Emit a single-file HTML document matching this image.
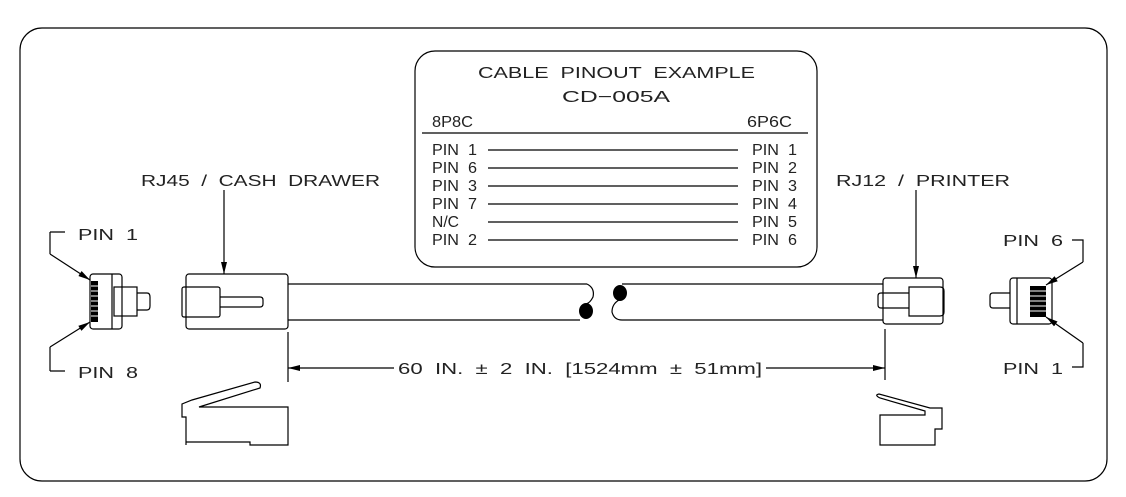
<!DOCTYPE html>
<html><head><meta charset="utf-8"><style>
html,body{margin:0;padding:0;background:#fff;}
svg{display:block;}
text{font-family:"Liberation Sans",sans-serif;fill:#222;font-size:16px;white-space:pre;}
</style></head><body>
<svg width="1126" height="497" viewBox="0 0 1126 497" xmlns="http://www.w3.org/2000/svg">
<defs><marker id="a" markerWidth="12" markerHeight="8" refX="12" refY="4" orient="auto" markerUnits="userSpaceOnUse"><path d="M0,1 L12,4 L0,7 Z" fill="#000"/></marker></defs>
<g fill="none" stroke="#000" stroke-width="1.2">
<rect x="20" y="28" width="1087" height="453" rx="22"/>
<rect x="415" y="51" width="402" height="216" rx="20"/>
<line x1="422" y1="133" x2="808" y2="133"/>
<line x1="488" y1="150" x2="738" y2="150"/>
<line x1="488" y1="168" x2="738" y2="168"/>
<line x1="488" y1="186" x2="738" y2="186"/>
<line x1="488" y1="204" x2="738" y2="204"/>
<line x1="488" y1="222" x2="738" y2="222"/>
<line x1="488" y1="240" x2="738" y2="240"/>

<rect x="90" y="274" width="32" height="55" rx="3"/>
<line x1="112" y1="274" x2="112" y2="329"/>
<rect x="114" y="287" width="23" height="29"/>
<path d="M137,293 H147 Q150,293 150,297 V306 Q150,310 147,310 H137"/>
<path d="M50,232 H65 M50,232 V254" /><path d="M50,254 L90,280" marker-end="url(#a)"/>
<path d="M50,371 H65 M50,371 V347"/><path d="M50,347 L90,322" marker-end="url(#a)"/>

<rect x="186" y="274" width="102" height="55" rx="3"/>
<rect x="182" y="287" width="38" height="30" rx="2"/>
<path d="M220,297 H260 Q263,297 263,300 V304 Q263,307 260,307 H220"/>
<line x1="224" y1="190" x2="224" y2="274" marker-end="url(#a)"/>
<line x1="288" y1="284" x2="587" y2="284"/>
<line x1="288" y1="320" x2="580" y2="320"/>
<path d="M587,284 Q595,288 593,297 Q590,303 586,304"/>
<path d="M619,300 Q612,304 612,312 Q614,320 622,320 H883"/>
<line x1="622" y1="284" x2="883" y2="284"/>

<rect x="883" y="278" width="60" height="46" rx="3"/>
<path d="M909,287 H940 Q944,287 944,291 V312 Q944,316 940,316 H909 Z"/>
<path d="M909,293 H881 Q878,293 878,296 V305 Q878,308 881,308 H909"/>
<line x1="916" y1="190" x2="916" y2="278" marker-end="url(#a)"/>

<rect x="1010" y="278" width="42" height="46" rx="3"/>
<line x1="1017" y1="278" x2="1017" y2="324"/>
<path d="M1010,293 H993 Q990,293 990,296 V305 Q990,308 993,308 H1010"/>
<path d="M1072,240 H1083 V262"/><path d="M1083,262 L1046,285" marker-end="url(#a)"/>
<path d="M1072,367 H1083 V343"/><path d="M1083,343 L1046,317" marker-end="url(#a)"/>

<line x1="288" y1="332" x2="288" y2="382"/>
<line x1="885" y1="329" x2="885" y2="380"/>
<line x1="394" y1="368" x2="288" y2="368" marker-end="url(#a)"/>
<line x1="766" y1="368" x2="885" y2="368" marker-end="url(#a)"/>

<path d="M186,445 V417 H182 V404 L192,400 L255,382 Q262,382 260,388 L199,407 H288 V445 H250 V442 H186"/>
<path d="M880,445 V415 H925 V411 L880,398 Q874,395 879,394 L930,408 H942 V429 H935 V445 Z"/>
</g>
<rect x="91" y="281" width="7" height="41" fill="#000"/>
<rect x="1030" y="286" width="16" height="31" fill="#000"/>
<g stroke="#fff" stroke-width="1"><line x1="1030" y1="291" x2="1046" y2="291"/><line x1="1030" y1="296" x2="1046" y2="296"/><line x1="1030" y1="301" x2="1046" y2="301"/><line x1="1030" y1="306" x2="1046" y2="306"/><line x1="1030" y1="311" x2="1046" y2="311"/>
<line x1="91" y1="286" x2="98" y2="286"/><line x1="91" y1="291" x2="98" y2="291"/><line x1="91" y1="296" x2="98" y2="296"/><line x1="91" y1="301" x2="98" y2="301"/><line x1="91" y1="306" x2="98" y2="306"/><line x1="91" y1="311" x2="98" y2="311"/><line x1="91" y1="316" x2="98" y2="316"/></g>
<ellipse cx="586" cy="311" rx="7" ry="8" fill="#000"/>
<ellipse cx="620" cy="293" rx="7" ry="8" fill="#000"/>

<text x="478" y="78" font-size="21" textLength="277" lengthAdjust="spacingAndGlyphs">CABLE  PINOUT  EXAMPLE</text>
<text x="562" y="102" font-size="21" textLength="108" lengthAdjust="spacingAndGlyphs">CD−005A</text>
<text x="432" y="127" font-size="12" textLength="41" lengthAdjust="spacingAndGlyphs">8P8C</text>
<text x="747" y="127" font-size="12" textLength="45" lengthAdjust="spacingAndGlyphs">6P6C</text>
<g>
<text x="432" y="155" font-size="13" textLength="45" lengthAdjust="spacingAndGlyphs">PIN  1</text>
<text x="432" y="173" font-size="13" textLength="45" lengthAdjust="spacingAndGlyphs">PIN  6</text>
<text x="432" y="191" font-size="13" textLength="45" lengthAdjust="spacingAndGlyphs">PIN  3</text>
<text x="432" y="209" font-size="13" textLength="45" lengthAdjust="spacingAndGlyphs">PIN  7</text>
<text x="432" y="227" font-size="13" textLength="27" lengthAdjust="spacingAndGlyphs">N/C</text>
<text x="432" y="245" font-size="13" textLength="45" lengthAdjust="spacingAndGlyphs">PIN  2</text>
<text x="752" y="155" font-size="13" textLength="45" lengthAdjust="spacingAndGlyphs">PIN  1</text>
<text x="752" y="173" font-size="13" textLength="45" lengthAdjust="spacingAndGlyphs">PIN  2</text>
<text x="752" y="191" font-size="13" textLength="45" lengthAdjust="spacingAndGlyphs">PIN  3</text>
<text x="752" y="209" font-size="13" textLength="45" lengthAdjust="spacingAndGlyphs">PIN  4</text>
<text x="752" y="227" font-size="13" textLength="45" lengthAdjust="spacingAndGlyphs">PIN  5</text>
<text x="752" y="245" font-size="13" textLength="45" lengthAdjust="spacingAndGlyphs">PIN  6</text>
</g>
<text x="141" y="186" font-size="18" textLength="239" lengthAdjust="spacingAndGlyphs">RJ45  /  CASH  DRAWER</text>
<text x="836" y="186" font-size="18" textLength="174" lengthAdjust="spacingAndGlyphs">RJ12  /  PRINTER</text>
<text x="78" y="240" font-size="19" textLength="60" lengthAdjust="spacingAndGlyphs">PIN  1</text>
<text x="78" y="378" font-size="19" textLength="60" lengthAdjust="spacingAndGlyphs">PIN  8</text>
<text x="1003" y="246" font-size="19" textLength="60" lengthAdjust="spacingAndGlyphs">PIN  6</text>
<text x="1003" y="374" font-size="19" textLength="60" lengthAdjust="spacingAndGlyphs">PIN  1</text>
<text x="398" y="374" font-size="19" textLength="364" lengthAdjust="spacingAndGlyphs">60  IN.  ±  2  IN.  [1524mm  ±  51mm]</text>
</svg>
</body></html>
